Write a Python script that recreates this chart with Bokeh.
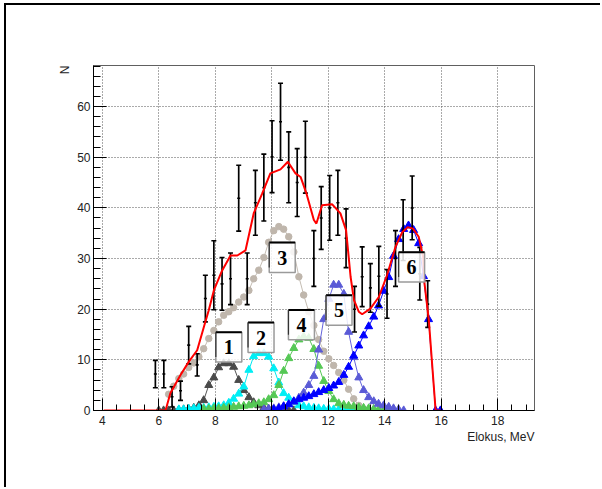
from bokeh.plotting import figure
from bokeh.models import FixedTicker, Title
from bokeh.core.properties import value
from bokeh.embed import file_html
from bokeh.resources import INLINE

# ---------------- data ----------------
x_ticks = [4, 6, 8, 10, 12, 14, 16, 18]
y_ticks = [0, 10, 20, 30, 40, 50, 60]

# measured spectrum (points with error bars)
bar_x = [5.88, 6.18, 6.47, 6.77, 7.06, 7.36, 7.65, 7.95, 8.24, 8.54, 8.83, 9.13,
         9.42, 9.72, 10.01, 10.31, 10.60, 10.90, 11.19, 11.49, 11.75, 12.05, 12.34,
         12.63, 12.93, 13.20, 13.49, 13.79, 14.08, 14.38, 14.65, 14.97, 15.24, 15.52]
bar_y = [7.2, 7.2, 2.7, 3.9, 12.9, 9.0, 22.1, 26.7, 25.0, 26.0, 41.9, 26.0,
         41.0, 44.0, 50.1, 57.0, 48.0, 45.0, 50.0, 30.0, 38.0, 40.0, 41.0,
         34.0, 20.0, 26.4, 24.2, 26.5, 23.0, 30.0, 35.6, 40.0, 27.0, 21.0]
bar_err = [2.7, 2.7, 2.0, 1.9, 3.7, 2.2, 4.6, 6.8, 5.2, 5.1, 6.5, 5.1,
           6.4, 6.6, 7.1, 7.6, 7.0, 6.7, 7.1, 5.5, 6.2, 6.4, 6.4,
           5.8, 4.5, 5.9, 4.8, 5.9, 4.8, 5.5, 6.0, 6.3, 5.2, 4.6]

# total fit (red)
fit_x = [4.05, 6.24, 6.41, 6.77, 7.06, 7.36, 7.65, 7.77, 7.95, 8.24, 8.54, 8.78,
         9.07, 9.36, 9.66, 9.95, 10.31, 10.57, 10.84, 11.02, 11.23, 11.49, 11.58,
         11.78, 12.14, 12.43, 12.63, 12.79, 12.91, 13.08, 13.20, 13.49, 13.79,
         14.08, 14.38, 14.62, 14.81, 15.00, 15.20, 15.36, 15.40, 15.56, 15.80, 15.97]
fit_y = [0, 0, 3.4, 7.0, 9.6, 11.9, 17.5, 19.8, 23.7, 27.6, 30.6, 30.6,
         31.6, 38.9, 42.8, 46.8, 47.6, 49.1, 46.8, 46.1, 42.8, 37.6, 36.9,
         40.5, 40.7, 38.9, 35.6, 26.4, 21.8, 19.5, 19.0, 20.1, 22.4,
         26.7, 32.3, 35.2, 36.2, 35.9, 34.3, 30.3, 25.4, 17.8, 0, 0]

# component 1 (dark grey triangles)
c1_x = [6.00, 6.17, 6.35, 6.53, 6.71, 6.88, 7.06, 7.24, 7.42, 7.59, 7.77, 7.95,
        8.12, 8.30, 8.48, 8.65, 8.83, 9.01, 9.19, 9.36, 9.54, 9.72, 9.89, 10.07,
        10.25, 10.42, 10.60, 10.78]
c1_y = [0, 0, 0, 0, 0.1, 0.2, 0.3, 0.5, 1.0, 2.0, 5.0, 6.5,
        8.5, 9.3, 9.3, 8.6, 6.0, 4.0, 2.6, 1.6, 1.0, 0.5, 0.3, 0.2,
        0.1, 0, 0, 0]

# component 2 (cyan triangles)
c2_x = [6.71, 6.88, 7.06, 7.24, 7.42, 7.59, 7.77, 7.95, 8.12, 8.30, 8.48, 8.65,
        8.83, 9.01, 9.19, 9.36, 9.54, 9.72, 9.89, 10.07, 10.25, 10.42, 10.60, 10.78,
        10.96, 11.13, 11.31, 11.49, 11.66, 11.84, 12.02, 12.19, 12.37, 12.55, 12.72,
        12.90, 13.08, 13.25]
c2_y = [0.2, 0.2, 0.3, 0.4, 0.5, 0.5, 0.6, 0.7, 0.8, 1.0, 1.5, 2.3,
        3.3, 4.7, 8.0, 10.7, 11.3, 11.3, 10.6, 8.3, 5.5, 3.4, 2.5, 1.6,
        1.0, 0.8, 0.6, 0.5, 0.4, 0.3, 0.3, 0.2, 0.2, 0.1, 0.1,
        0.1, 0.0, 0.0]

# component 3 (grey circles)
c3_x = [6.35, 6.53, 6.71, 6.88, 7.06, 7.24, 7.42, 7.59, 7.77, 7.95, 8.12, 8.30,
        8.48, 8.65, 8.83, 9.01, 9.19, 9.36, 9.54, 9.72, 9.89, 10.07, 10.25, 10.42,
        10.60, 10.78, 10.96, 11.13, 11.31, 11.49, 11.66, 11.84, 12.02, 12.19, 12.37,
        12.55, 12.72, 12.90, 13.08, 13.25]
c3_y = [3.2, 4.8, 6.3, 7.2, 8.5, 9.4, 10.6, 12.2, 14.2, 15.8, 17.5, 18.8,
        19.5, 20.3, 21.4, 22.4, 23.7, 26.0, 27.7, 30.2, 33.2, 35.5, 36.3, 35.8,
        34.3, 31.3, 26.4, 22.8, 19.5, 16.8, 14.0, 11.7, 10.2, 8.9, 7.5,
        6.0, 4.2, 2.3, 1.0, 0.3]

# component 4 (green triangles)
c4_x = [7.59, 7.77, 7.95, 8.12, 8.30, 8.48, 8.65, 8.83, 9.01, 9.19, 9.36, 9.54,
        9.72, 9.89, 10.07, 10.25, 10.42, 10.60, 10.78, 10.96, 11.13, 11.31, 11.49,
        11.66, 11.84, 12.02, 12.19, 12.37, 12.55, 12.72, 12.90, 13.08, 13.25, 13.43,
        13.61, 13.78, 13.96, 14.14]
c4_y = [0.3, 0.3, 0.4, 0.4, 0.5, 0.6, 0.7, 0.8, 0.9, 1.0, 1.2, 1.4,
        1.6, 2.2, 3.0, 5.0, 7.8, 10.3, 12.3, 14.0, 14.6, 14.3, 12.1,
        8.8, 5.8, 3.8, 2.2, 1.4, 1.1, 0.9, 0.8, 0.6, 0.5, 0.4,
        0.3, 0.2, 0.1, 0.0]

# component 5 (slate-blue triangles)
c5_x = [9.72, 9.89, 10.07, 10.25, 10.42, 10.60, 10.78, 10.96, 11.13, 11.31, 11.49,
        11.66, 11.84, 12.02, 12.19, 12.37, 12.55, 12.72, 12.90, 13.08, 13.25, 13.43,
        13.61, 13.78, 13.96, 14.14, 14.31, 14.49, 14.67]
c5_y = [0.2, 0.3, 0.4, 0.6, 0.8, 1.2, 1.7, 2.5, 3.5, 5.0, 6.8,
        12.0, 18.0, 22.0, 24.8, 24.8, 23.0, 15.5, 10.5, 6.5, 4.0, 2.6,
        1.8, 1.3, 1.0, 0.7, 0.4, 0.2, 0.0]

# component 6 (blue triangles)
c6_x = [10.07, 10.25, 10.42, 10.60, 10.78, 10.96, 11.13, 11.31, 11.49, 11.66, 11.84,
        12.02, 12.19, 12.37, 12.55, 12.72, 12.90, 13.08, 13.25, 13.43, 13.61, 13.78,
        13.96, 14.14, 14.31, 14.49, 14.67, 14.84, 15.02, 15.20, 15.37, 15.55, 15.80, 15.97]
c6_y = [0.2, 0.4, 0.8, 1.2, 1.8, 2.2, 2.5, 2.8, 3.2, 3.6, 4.0,
        4.4, 4.9, 5.6, 7.0, 8.6, 10.8, 12.8, 14.8, 16.6, 18.5, 20.7,
        23.6, 26.3, 30.5, 33.8, 35.8, 36.5, 35.6, 33.0, 26.5, 18.0, 0.0, 0.0]

# peak labels
label_text = ["1", "2", "3", "4", "5", "6"]
label_x = [8.48, 9.62, 10.37, 11.05, 12.38, 14.95]
label_y = [12.5, 14.4, 30.2, 16.9, 19.8, 28.3]

x_title = "Elokus, MeV"
y_title = "N"

# ---------------- figure ----------------
p = figure(width=596, height=484, x_range=(3.69, 19.30), y_range=(0, 68.1),
           output_backend="svg", toolbar_location=None,
           min_border_left=87, min_border_right=68, min_border_top=60,
           min_border_bottom=79, background_fill_color="white",
           border_fill_color="white",
           styles={"margin-left": "4px", "margin-top": "3px",
                   "border-left": "2px solid black",
                   "border-top": "2px solid black"})

p.outline_line_color = "#606060"
p.outline_line_width = 1

p.xaxis.ticker = FixedTicker(ticks=x_ticks,
                             minor_ticks=[4 + 0.5 * i for i in range(31)])
p.yaxis.ticker = FixedTicker(ticks=y_ticks,
                             minor_ticks=[2 * i for i in range(35)])
for ax in (p.xaxis, p.yaxis):
    ax.axis_line_color = "black"
    ax.axis_line_width = 1
    ax.major_tick_line_color = "black"
    ax.minor_tick_line_color = "black"
    ax.major_tick_out = 0
    ax.minor_tick_out = 0
    ax.major_label_text_font = "Liberation Sans"
    ax.major_label_text_font_size = "12px"
    ax.major_label_text_color = "#222222"
p.xaxis.major_tick_in = 12
p.xaxis.minor_tick_in = 6
p.yaxis.major_tick_in = 13
p.yaxis.minor_tick_in = 7
p.xaxis.major_label_standoff = 5
p.yaxis.major_label_standoff = 3

p.grid.grid_line_color = "#555555"
p.grid.grid_line_dash = "1 2"
p.grid.grid_line_width = 1

# components
p.line(c3_x, c3_y, line_color="#c4bcb2", line_width=1)
p.scatter(c3_x, c3_y, marker="circle", size=6.5, fill_color="#bfb6ac",
          line_color="#bfb6ac")

p.line(c1_x, c1_y, line_color="#555555", line_width=1)
p.scatter(c1_x, c1_y, marker="triangle", size=8, fill_color="#4a4a4a",
          line_color="#4a4a4a")

p.line(c2_x, c2_y, line_color="#00e8f0", line_width=1)
p.scatter(c2_x, c2_y, marker="triangle", size=8, fill_color="#00eef5",
          line_color="#00eef5")

p.line(c4_x, c4_y, line_color="#55c855", line_width=1)
p.scatter(c4_x, c4_y, marker="triangle", size=8, fill_color="#55c855",
          line_color="#55c855")

p.line(c5_x, c5_y, line_color="#6464dc", line_width=1)
p.scatter(c5_x, c5_y, marker="triangle", size=8, fill_color="#5a5ad6",
          line_color="#5a5ad6")

p.line(c6_x, c6_y, line_color="#0000ff", line_width=1)
p.scatter(c6_x, c6_y, marker="triangle", size=8, fill_color="#0000ff",
          line_color="#0000ff")

# error bars
lo = [y - e for y, e in zip(bar_y, bar_err)]
hi = [y + e for y, e in zip(bar_y, bar_err)]
p.segment(x0=bar_x, y0=lo, x1=bar_x, y1=hi, line_color="black", line_width=1.7)
p.scatter(bar_x, lo, marker="dash", size=5, line_color="black", line_width=1.6)
p.scatter(bar_x, hi, marker="dash", size=5, line_color="black", line_width=1.6)
p.scatter(bar_x, bar_y, marker="dash", size=3, line_color="black", line_width=1.6)

# total fit
p.line(fit_x, fit_y, line_color="#ff0000", line_width=2)

# label boxes
bw, bh = 0.92, 5.9
p.rect(x=label_x, y=label_y, width=bw, height=bh, fill_color="white",
       fill_alpha=0.85, line_color="#9a9a9a", line_width=1.5)
p.segment(x0=[x - bw / 2 for x in label_x], y0=[y + bh / 2 for y in label_y],
          x1=[x + bw / 2 for x in label_x], y1=[y + bh / 2 for y in label_y],
          line_color="black", line_width=2)
p.segment(x0=[x - bw / 2 for x in label_x], y0=[y + bh / 2 for y in label_y],
          x1=[x - bw / 2 for x in label_x], y1=[y - bh / 2 + 1.0 for y in label_y],
          line_color="#333333", line_width=1.2)
p.text(x=label_x, y=label_y, text=label_text, text_font=value("Liberation Serif"),
       text_font_style="bold", text_font_size="20px", text_align="center",
       text_baseline="middle", text_color="black")

# axis titles (placed at the ends of the axes, as in ROOT)
p.add_layout(Title(text=x_title, align="right", text_font="Liberation Sans",
                   text_font_size="12px", text_font_style="normal",
                   text_color="#222222", standoff=0), "below")
p.add_layout(Title(text=y_title, align="right", text_font="Liberation Sans",
                   text_font_size="12px", text_font_style="normal",
                   text_color="#222222", standoff=6), "left")

open("out.html", "w").write(file_html(p, INLINE))
